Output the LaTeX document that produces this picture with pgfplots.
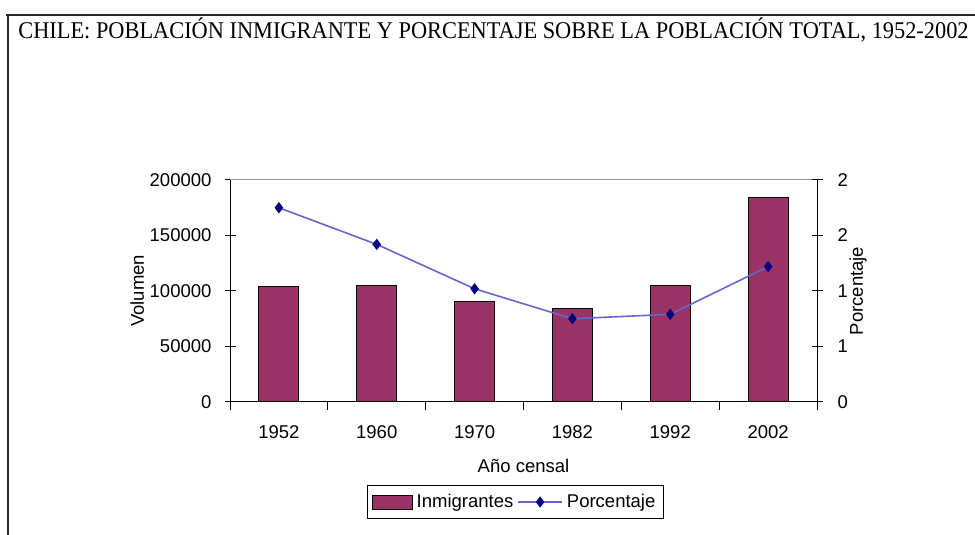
\documentclass[border=0pt]{standalone}
\usepackage{fontspec}
\setmainfont{Liberation Sans}
\newfontfamily\titlefont{Liberation Serif}
\usepackage{pgfplots}
\pgfplotsset{compat=1.18}

\definecolor{barcol}{RGB}{153,51,102}
\definecolor{linecol}{RGB}{102,102,204}
\definecolor{markcol}{RGB}{0,0,128}

\pgfplotsset{
  base/.style={
    at={(115pt,66.5pt)}, anchor=south west,
    scale only axis, width=293.5pt, height=111pt,
    xmin=-0.5, xmax=5.5,
    font=\fontsize{9.25}{11}\selectfont,
    axis line style={black, line width=0.5pt},
    tick style={black, line width=0.5pt},
    major tick length=5.5pt,
    scaled y ticks=false,
  },
  my line legend/.style={legend image code/.code={
    \draw[mark repeat=2, mark phase=2, ##1] plot coordinates {(0pt,0pt) (11pt,0pt) (22pt,0pt)};}},
  my bar legend/.style={legend image code/.code={
    \draw[fill=barcol, draw=black, line width=0.5pt] (0pt,-3.5pt) rectangle (20pt,3.5pt);}},
}

\begin{document}
\begin{tikzpicture}
\path[use as bounding box] (0,0) rectangle (487.5pt,267.5pt);
% marco de la pagina
\draw[line width=0.8pt, black!85] (3pt,260pt) -- (487.5pt,260pt);
\draw[line width=0.8pt, black!85] (4pt,0pt) -- (4pt,260pt);
\node[anchor=base west, inner sep=0pt, xscale=0.932] at (9pt,248pt)
  {\titlefont\fontsize{12}{14}\selectfont CHILE: POBLACIÓN INMIGRANTE Y PORCENTAJE SOBRE LA POBLACIÓN TOTAL, 1952-2002};

\begin{axis}[
  base,
  ymin=0, ymax=200000,
  axis x line*=bottom, axis y line*=left,
  ybar, bar width=20pt,
  ytick={0,50000,100000,150000,200000},
  yticklabels={0,50000,100000,150000,200000},
  ytick align=center,
  xtick={0,1,2,3,4,5},
  xticklabels={1952,1960,1970,1982,1992,2002},
  major x tick style={draw=none},
  minor xtick={-0.5,0.5,1.5,2.5,3.5,4.5,5.5},
  minor tick length=4pt,
  xtick align=outside,
  xticklabel style={anchor=center, yshift=-9.5pt},
  yticklabel style={xshift=-3pt},
  ylabel={Volumen},
  ylabel style={at={(axis description cs:-0.158,0.5)}, anchor=center},
  xlabel={Año censal},
  xlabel style={at={(axis description cs:0.5,-0.287)}, anchor=center},
]
\addplot[fill=barcol, draw=black, line width=0.5pt] coordinates {
  (0,103878) (1,104853) (2,90441) (3,84345) (4,105070) (5,184464)};
\draw[black!40, line width=0.5pt] (rel axis cs:0,1) -- (rel axis cs:1,1);
\end{axis}

\begin{axis}[
  base,
  ymin=0, ymax=2,
  axis x line=none, axis y line*=right,
  ytick={0,0.5,1,1.5,2},
  yticklabels={0,1,1,2,2},
  ytick align=center,
  yticklabel style={xshift=4pt},
  ylabel={Porcentaje},
  ylabel style={at={(axis description cs:1.07,0.5)}, anchor=center, rotate=0},
  legend style={at={(axis description cs:0.4864,-0.4505)}, anchor=center,
    draw=black, line width=0.5pt, font=\fontsize{9.25}{11}\selectfont,
    inner xsep=2pt, inner ysep=2pt},
  legend columns=2,
  legend cell align=left,
]
\addlegendimage{my bar legend}
\addlegendentry{Inmigrantes}
\addplot[color=linecol, line width=0.8pt, mark=diamond*,
  mark options={fill=markcol, draw=markcol}, mark size=2.2pt, my line legend]
  coordinates {(0,1.75) (1,1.42) (2,1.02) (3,0.75) (4,0.79) (5,1.22)};
\addlegendentry{Porcentaje}
\end{axis}
\end{tikzpicture}
\end{document}
